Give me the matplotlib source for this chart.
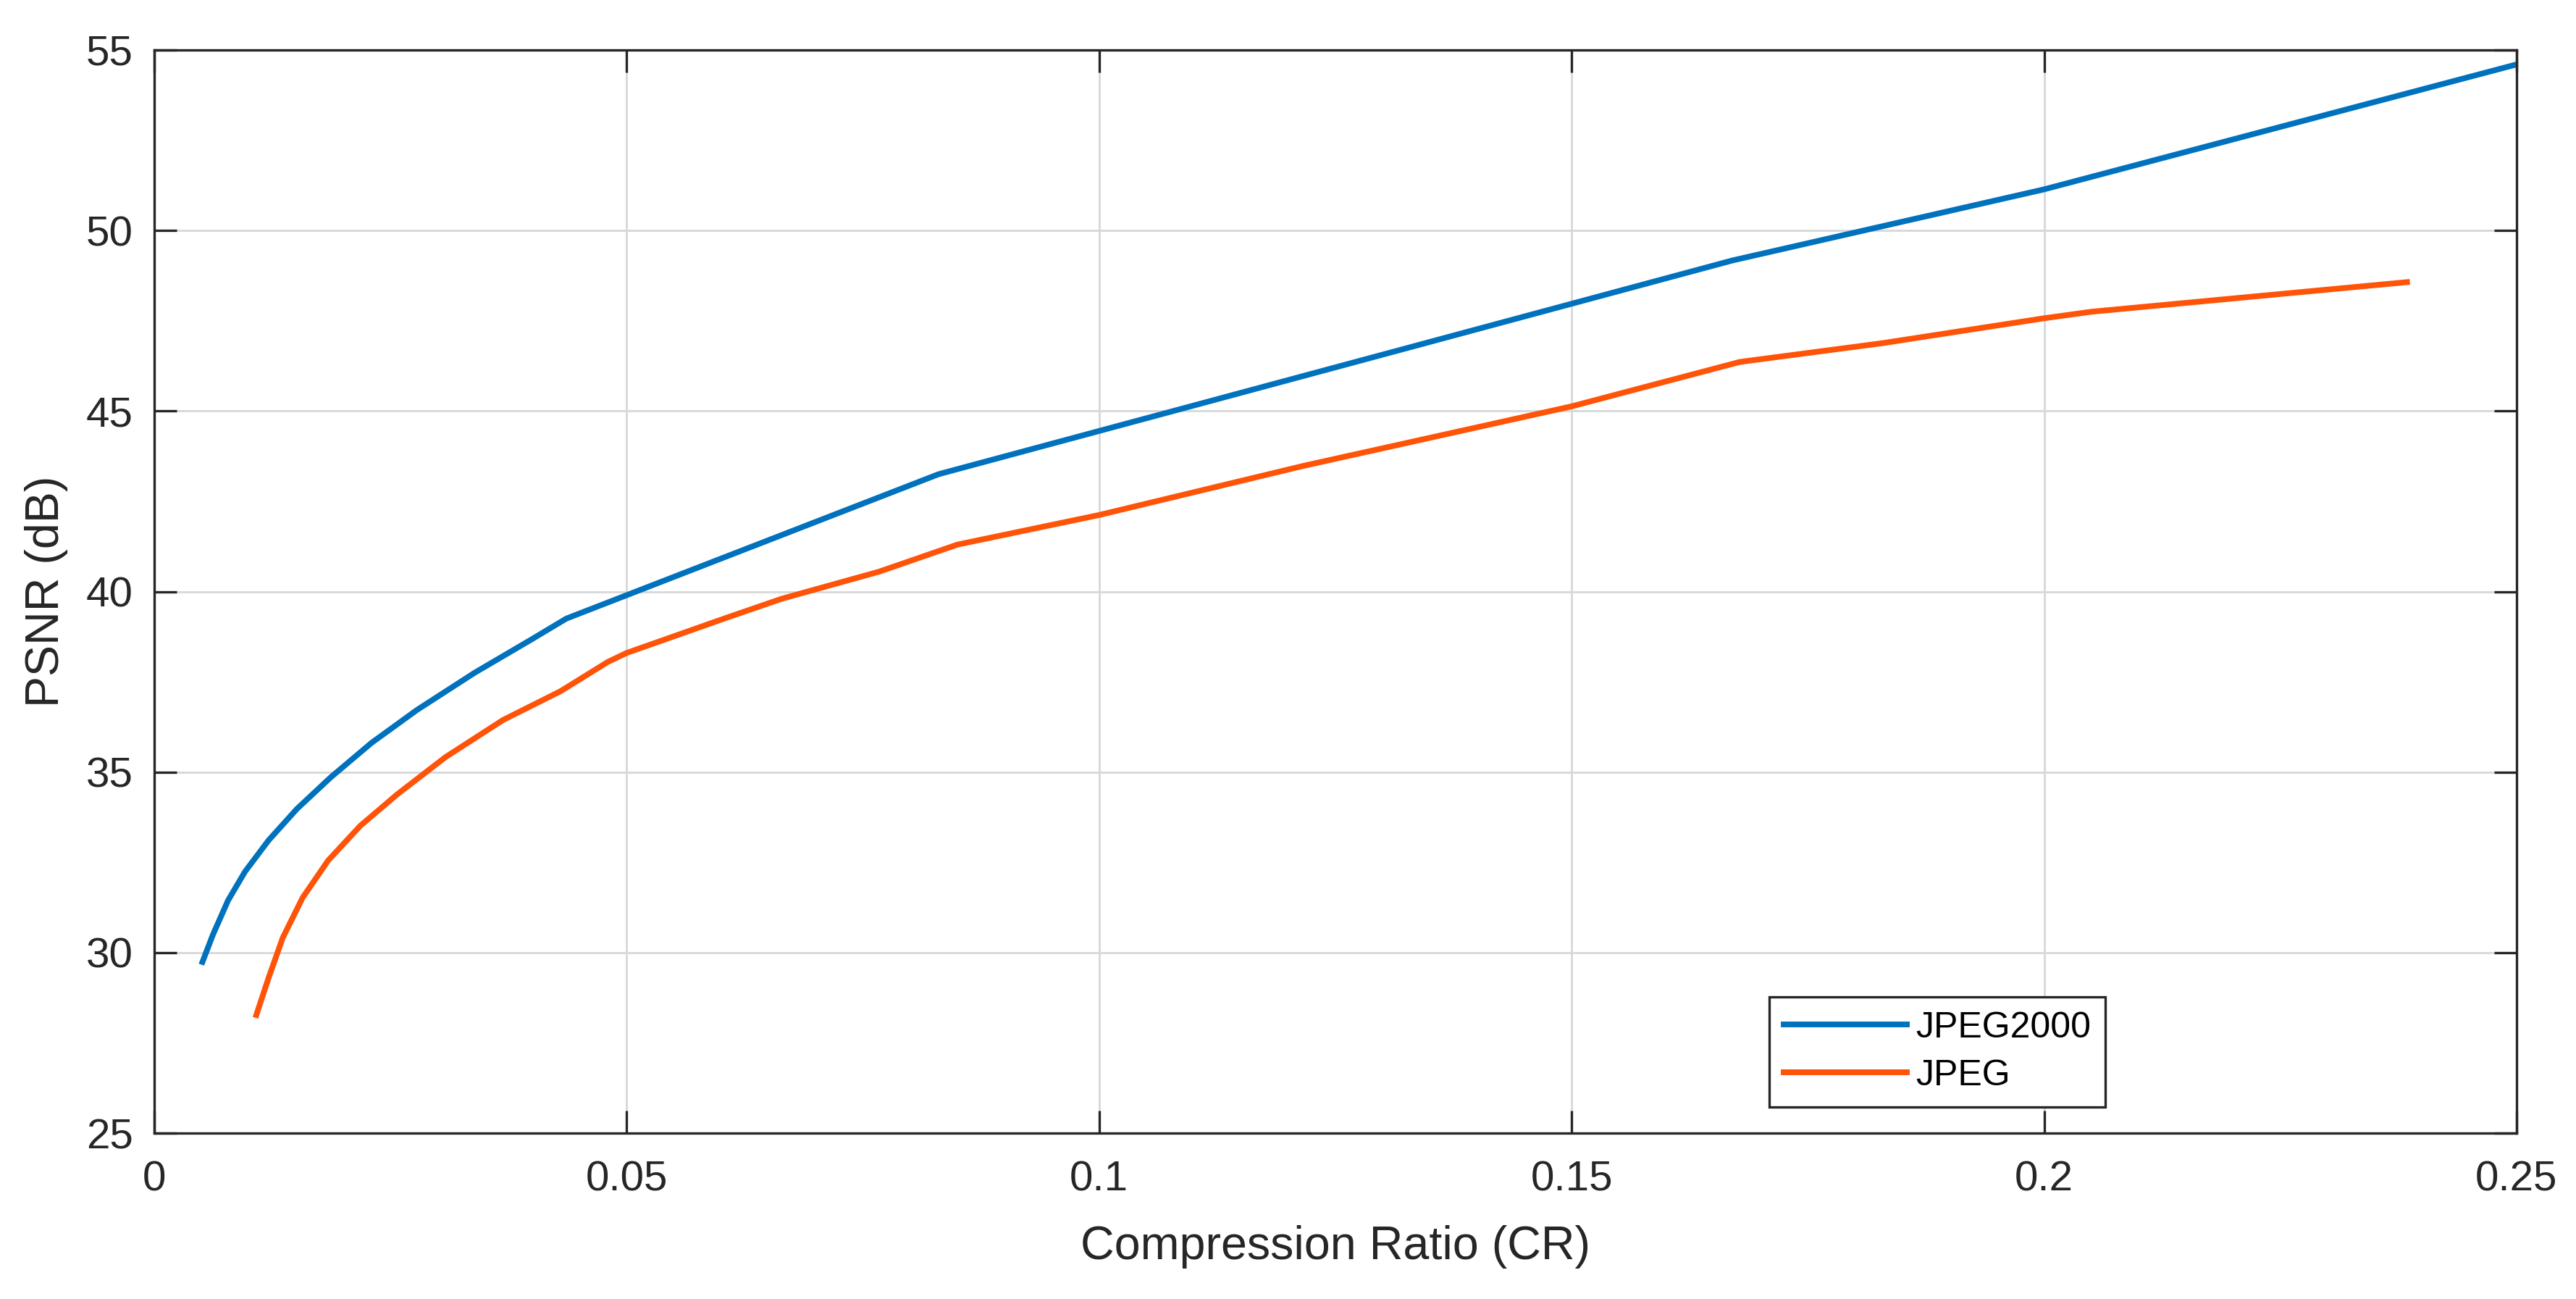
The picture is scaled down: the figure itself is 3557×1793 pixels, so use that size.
import matplotlib
matplotlib.use('Agg')
import matplotlib.pyplot as plt

# values
jp2k_cr = [0.0051, 0.0062, 0.0078, 0.0096, 0.0121, 0.0151, 0.0187, 0.0230,
           0.0278, 0.0339, 0.0399, 0.0436, 0.0830, 0.1670, 0.2000, 0.2500]
jp2k_psnr = [29.74, 30.49, 31.44, 32.24, 33.11, 33.98, 34.86, 35.81,
             36.72, 37.75, 38.67, 39.25, 43.25, 49.17, 51.14, 54.60]

jpeg_cr = [0.0108, 0.0121, 0.0136, 0.0157, 0.0184, 0.0218, 0.0257, 0.0308,
           0.0369, 0.0430, 0.0480, 0.0500, 0.0603, 0.0664, 0.0767, 0.0850,
           0.1000, 0.1216, 0.1500, 0.1678, 0.1829, 0.2000, 0.2050, 0.2384]
jpeg_psnr = [28.27, 29.30, 30.41, 31.52, 32.55, 33.51, 34.38, 35.41,
             36.44, 37.24, 38.05, 38.30, 39.25, 39.80, 40.55, 41.30,
             42.12, 43.48, 45.13, 46.36, 46.88, 47.57, 47.75, 48.57]

series_names = ['JPEG2000', 'JPEG']
x_ticks = [0, 0.05, 0.1, 0.15, 0.2, 0.25]
x_tick_labels = ['0', '0.05', '0.1', '0.15', '0.2', '0.25']
y_ticks = [25, 30, 35, 40, 45, 50, 55]

plt.rcParams['font.family'] = ['Liberation Sans', 'DejaVu Sans']

dpi = 300
W, H = 3557, 1793
fig = plt.figure(figsize=(W / dpi, H / dpi), dpi=dpi)
ax = fig.add_axes([213 / W, 1 - 1564 / H, (3475 - 213) / W, (1564 - 69) / H])

ax.plot(jp2k_cr, jp2k_psnr, color='#0072BD', linewidth=1.9, label=series_names[0])
ax.plot(jpeg_cr, jpeg_psnr, color='#FF5308', linewidth=1.9, label=series_names[1])

ax.set_xlim(0, 0.25)
ax.set_ylim(25, 55)
ax.set_xticks(x_ticks)
ax.set_xticklabels(x_tick_labels)
ax.set_yticks(y_ticks)

ax.grid(True, color='#d9d9d9', linewidth=0.7)
ax.set_axisbelow(True)
for s in ax.spines.values():
    s.set_color('#262626')
    s.set_linewidth(0.8)
ax.tick_params(direction='in', length=7.5, width=0.8, color='#262626',
               labelsize=14, labelcolor='#262626', top=True, right=True)
ax.tick_params(axis='y', pad=7)
ax.tick_params(axis='x', pad=9)

ax.set_xlabel('Compression Ratio (CR)', fontsize=15.5, color='#262626', labelpad=8.5)
ax.set_ylabel('PSNR (dB)', fontsize=15.5, color='#262626', labelpad=6)

leg = ax.legend(loc='lower left', bbox_to_anchor=(0.6836, 0.0244), borderaxespad=0,
                fontsize=12, handlelength=3.4, handletextpad=0.25, borderpad=0.4,
                labelspacing=0.4, fancybox=False, framealpha=1)
leg.get_frame().set_edgecolor('#262626')
leg.get_frame().set_linewidth(0.8)

fig.savefig('out.png', dpi=dpi, facecolor='white')
